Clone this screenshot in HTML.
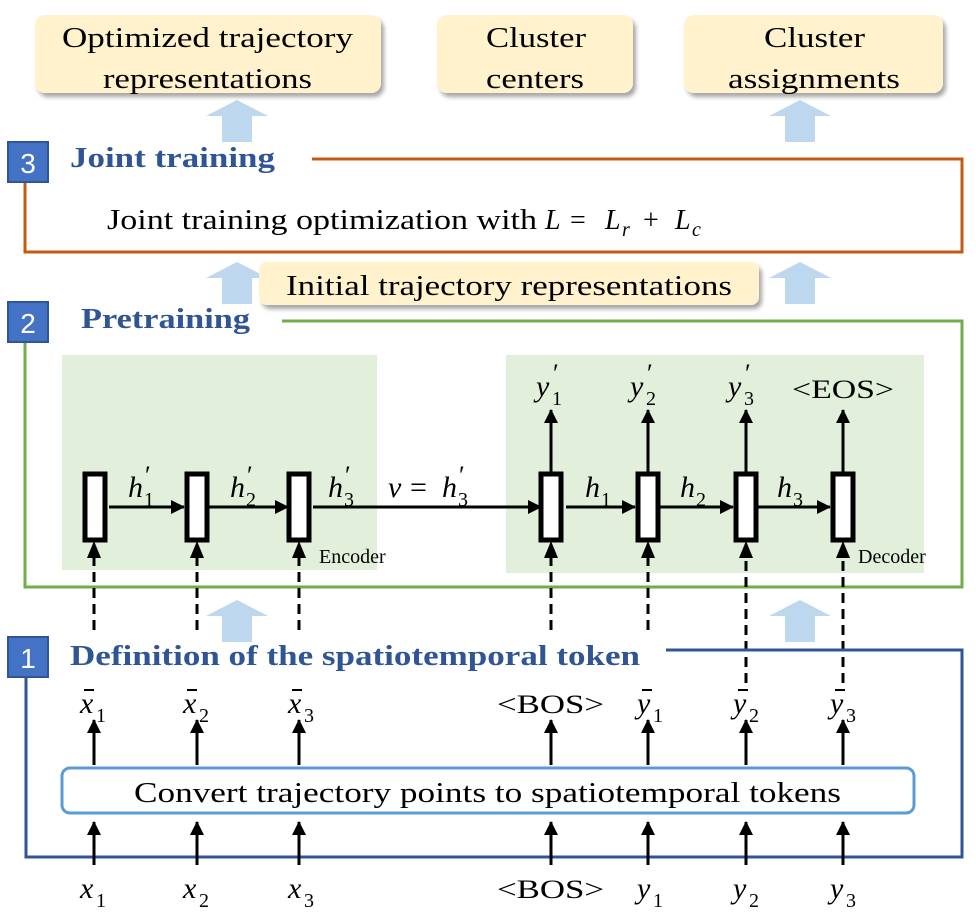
<!DOCTYPE html>
<html><head><meta charset="utf-8"><style>
html,body{margin:0;padding:0;background:#fff;}
svg{display:block;}
text{font-family:"Liberation Serif",serif;fill:#000;}
.h{font-weight:bold;fill:#2F5597;}
.m{font-style:italic;}
.n{font-style:normal;}
</style></head><body>
<svg width="976" height="918" viewBox="0 0 976 918" xmlns="http://www.w3.org/2000/svg">
<defs>
<marker id="ah" markerWidth="14" markerHeight="14" refX="13" refY="7" orient="auto" markerUnits="userSpaceOnUse">
<path d="M0,0 L14,7 L0,14 Z" fill="#000"/></marker>
<filter id="sh" x="-10%" y="-10%" width="130%" height="140%"><feDropShadow dx="3" dy="4" stdDeviation="2" flood-color="#000" flood-opacity="0.35"/></filter>
<g id="barrow"><path d="M-15,42 L-15,16 L-31,16 L0,-0 L31,16 L15,16 L15,42 Z" fill="#BDD7EE"/></g>
</defs>

<!-- top boxes -->
<rect x="35" y="15" width="346" height="78" rx="10" fill="#FFF2CC" filter="url(#sh)"/>
<rect x="437" y="15" width="196" height="78" rx="10" fill="#FFF2CC" filter="url(#sh)"/>
<rect x="684" y="15" width="259" height="78" rx="10" fill="#FFF2CC" filter="url(#sh)"/>
<text x="62" y="47" font-size="28" textLength="291" lengthAdjust="spacingAndGlyphs">Optimized trajectory</text>
<text x="103" y="88" font-size="28" textLength="209" lengthAdjust="spacingAndGlyphs">representations</text>
<text x="486" y="47" font-size="28" textLength="100" lengthAdjust="spacingAndGlyphs">Cluster</text>
<text x="486" y="88" font-size="28" textLength="98" lengthAdjust="spacingAndGlyphs">centers</text>
<text x="764" y="47" font-size="28" textLength="101" lengthAdjust="spacingAndGlyphs">Cluster</text>
<text x="728" y="88" font-size="28" textLength="172" lengthAdjust="spacingAndGlyphs">assignments</text>

<use href="#barrow" x="237" y="100"/>
<use href="#barrow" x="800" y="100"/>

<!-- section 3 -->
<path d="M312,159 H962 V252 H25 V170" fill="none" stroke="#C55A11" stroke-width="3"/>
<rect x="8" y="142" width="40" height="40" fill="#4472C4" stroke="#2F5597" stroke-width="2"/>
<text x="28" y="173" font-size="28" text-anchor="middle" style="fill:#fff;font-family:'Liberation Sans',sans-serif">3</text>
<text class="h" x="70" y="167" font-size="28" textLength="205" lengthAdjust="spacingAndGlyphs">Joint training</text>
<text x="107" y="229" font-size="28" textLength="430" lengthAdjust="spacingAndGlyphs">Joint training optimization with</text>
<text x="545" y="229" font-size="28" class="m">L</text>
<text x="570" y="229" font-size="28">=</text>
<text x="605" y="229" font-size="28" class="m">L</text><text x="622" y="236" font-size="20" class="m">r</text>
<text x="643" y="229" font-size="28">+</text>
<text x="675" y="229" font-size="28" class="m">L</text><text x="692" y="236" font-size="20" class="m">c</text>

<use href="#barrow" x="237" y="262"/>
<use href="#barrow" x="800" y="262"/>
<rect x="259" y="262" width="500" height="43" rx="8" fill="#FFF2CC" filter="url(#sh)"/>
<text x="286" y="295" font-size="28" textLength="446" lengthAdjust="spacingAndGlyphs">Initial trajectory representations</text>

<!-- section 2 -->
<path d="M282,321 H962 V587 H25 V338" fill="none" stroke="#70AD47" stroke-width="3"/>
<rect x="8" y="302" width="40" height="40" fill="#4472C4" stroke="#2F5597" stroke-width="2"/>
<text x="28" y="333" font-size="28" text-anchor="middle" style="fill:#fff;font-family:'Liberation Sans',sans-serif">2</text>
<text class="h" x="81" y="328" font-size="28" textLength="169" lengthAdjust="spacingAndGlyphs">Pretraining</text>

<rect x="62" y="355" width="315" height="215" fill="#E2EFDA"/>
<rect x="506" y="355" width="418" height="218" fill="#E2EFDA"/>

<g stroke="#000" stroke-width="3" fill="none">
<line x1="109" y1="507" x2="184" y2="507" marker-end="url(#ah)"/>
<line x1="209" y1="507" x2="288" y2="507" marker-end="url(#ah)"/>
<line x1="313" y1="507" x2="541" y2="507" marker-end="url(#ah)"/>
<line x1="566" y1="507" x2="635" y2="507" marker-end="url(#ah)"/>
<line x1="660" y1="507" x2="733" y2="507" marker-end="url(#ah)"/>
<line x1="758" y1="507" x2="830" y2="507" marker-end="url(#ah)"/>
<line x1="551" y1="472" x2="551" y2="410" marker-end="url(#ah)"/>
<line x1="648" y1="472" x2="648" y2="410" marker-end="url(#ah)"/>
<line x1="746" y1="472" x2="746" y2="410" marker-end="url(#ah)"/>
<line x1="843" y1="472" x2="843" y2="410" marker-end="url(#ah)"/>
</g>
<g stroke="#000" stroke-width="3" fill="none" stroke-dasharray="10,6">
<line x1="94" y1="630" x2="94" y2="555"/>
<line x1="197" y1="630" x2="197" y2="555"/>
<line x1="299" y1="630" x2="299" y2="555"/>
<line x1="551" y1="630" x2="551" y2="555"/>
<line x1="648" y1="630" x2="648" y2="555"/>
<line x1="746" y1="683" x2="746" y2="555"/>
<line x1="843" y1="683" x2="843" y2="555"/>
</g>
<g fill="#000">
<path d="M87,558 L94,541 L101,558Z"/><path d="M190,558 L197,541 L204,558Z"/><path d="M292,558 L299,541 L306,558Z"/>
<path d="M544,558 L551,541 L558,558Z"/><path d="M641,558 L648,541 L655,558Z"/><path d="M739,558 L746,541 L753,558Z"/><path d="M836,558 L843,541 L850,558Z"/>
</g>
<g fill="#fff" stroke="#000" stroke-width="5">
<rect x="85" y="474" width="20" height="66"/>
<rect x="187" y="474" width="20" height="66"/>
<rect x="289" y="474" width="20" height="66"/>
<rect x="541" y="474" width="20" height="66"/>
<rect x="638" y="474" width="20" height="66"/>
<rect x="736" y="474" width="20" height="66"/>
<rect x="833" y="474" width="20" height="66"/>
</g>
<g font-size="30" class="m">
<text x="128" y="497">h</text><text x="145" y="484" font-size="26" class="n">′</text><text x="144" y="506" font-size="20" class="n">1</text>
<text x="230" y="497">h</text><text x="247" y="484" font-size="26" class="n">′</text><text x="246" y="506" font-size="20" class="n">2</text>
<text x="328" y="497">h</text><text x="345" y="484" font-size="26" class="n">′</text><text x="344" y="506" font-size="20" class="n">3</text>
<text x="388" y="497">v</text><text x="410" y="497" class="n">=</text>
<text x="442" y="497">h</text><text x="459" y="484" font-size="26" class="n">′</text><text x="458" y="506" font-size="20" class="n">3</text>
<text x="585" y="497">h</text><text x="601" y="506" font-size="20" class="n">1</text>
<text x="680" y="497">h</text><text x="696" y="506" font-size="20" class="n">2</text>
<text x="777" y="497">h</text><text x="793" y="506" font-size="20" class="n">3</text>
<text x="536" y="396">y</text><text x="553" y="382" font-size="26" class="n">′</text><text x="552" y="405" font-size="20" class="n">1</text>
<text x="630" y="396">y</text><text x="647" y="382" font-size="26" class="n">′</text><text x="646" y="405" font-size="20" class="n">2</text>
<text x="728" y="396">y</text><text x="745" y="382" font-size="26" class="n">′</text><text x="744" y="405" font-size="20" class="n">3</text>
</g>
<text x="792" y="398" font-size="26" textLength="102" lengthAdjust="spacingAndGlyphs">&lt;EOS&gt;</text>
<text x="319" y="563" font-size="20">Encoder</text>
<text x="858" y="563" font-size="20">Decoder</text>

<use href="#barrow" x="237" y="600"/>
<use href="#barrow" x="800" y="600"/>

<!-- section 1 -->
<path d="M666,650 H962 V857 H26 V677" fill="none" stroke="#2F5597" stroke-width="3"/>
<rect x="8" y="637" width="40" height="40" fill="#4472C4" stroke="#2F5597" stroke-width="2"/>
<text x="28" y="668" font-size="28" text-anchor="middle" style="fill:#fff;font-family:'Liberation Sans',sans-serif">1</text>
<text class="h" x="70" y="665" font-size="28" textLength="570" lengthAdjust="spacingAndGlyphs">Definition of the spatiotemporal token</text>

<g stroke="#000" stroke-width="3">
<line x1="94" y1="765" x2="94" y2="720" marker-end="url(#ah)"/>
<line x1="197" y1="765" x2="197" y2="720" marker-end="url(#ah)"/>
<line x1="299" y1="765" x2="299" y2="720" marker-end="url(#ah)"/>
<line x1="551" y1="765" x2="551" y2="720" marker-end="url(#ah)"/>
<line x1="648" y1="765" x2="648" y2="720" marker-end="url(#ah)"/>
<line x1="746" y1="765" x2="746" y2="720" marker-end="url(#ah)"/>
<line x1="843" y1="765" x2="843" y2="720" marker-end="url(#ah)"/>
<line x1="94" y1="865" x2="94" y2="822" marker-end="url(#ah)"/>
<line x1="197" y1="865" x2="197" y2="822" marker-end="url(#ah)"/>
<line x1="299" y1="865" x2="299" y2="822" marker-end="url(#ah)"/>
<line x1="551" y1="865" x2="551" y2="822" marker-end="url(#ah)"/>
<line x1="648" y1="865" x2="648" y2="822" marker-end="url(#ah)"/>
<line x1="746" y1="865" x2="746" y2="822" marker-end="url(#ah)"/>
<line x1="843" y1="865" x2="843" y2="822" marker-end="url(#ah)"/>
</g>
<rect x="62" y="768" width="852" height="45" rx="8" fill="#fff" stroke="#5B9BD5" stroke-width="3"/>
<text x="134" y="802" font-size="28" textLength="707" lengthAdjust="spacingAndGlyphs">Convert trajectory points to spatiotemporal tokens</text>

<g stroke="#000" stroke-width="2">
<line x1="84" y1="690" x2="94" y2="690"/><line x1="187" y1="690" x2="197" y2="690"/><line x1="292" y1="690" x2="302" y2="690"/>
<line x1="642" y1="690" x2="652" y2="690"/><line x1="738" y1="690" x2="748" y2="690"/><line x1="835" y1="690" x2="845" y2="690"/>
</g>
<g font-size="30">
<text x="80" y="713" class="m">x</text><text x="96" y="722" font-size="20">1</text>
<text x="183" y="713" class="m">x</text><text x="199" y="722" font-size="20">2</text>
<text x="288" y="713" class="m">x</text><text x="304" y="722" font-size="20">3</text>
<text x="497" y="713" font-size="26" textLength="107" lengthAdjust="spacingAndGlyphs">&lt;BOS&gt;</text>
<text x="637" y="713" class="m">y</text><text x="653" y="722" font-size="20">1</text>
<text x="733" y="713" class="m">y</text><text x="749" y="722" font-size="20">2</text>
<text x="830" y="713" class="m">y</text><text x="846" y="722" font-size="20">3</text>

<text x="80" y="898" class="m">x</text><text x="96" y="907" font-size="20">1</text>
<text x="183" y="898" class="m">x</text><text x="199" y="907" font-size="20">2</text>
<text x="288" y="898" class="m">x</text><text x="304" y="907" font-size="20">3</text>
<text x="497" y="898" font-size="26" textLength="107" lengthAdjust="spacingAndGlyphs">&lt;BOS&gt;</text>
<text x="637" y="898" class="m">y</text><text x="653" y="907" font-size="20">1</text>
<text x="733" y="898" class="m">y</text><text x="749" y="907" font-size="20">2</text>
<text x="830" y="898" class="m">y</text><text x="846" y="907" font-size="20">3</text>
</g>
</svg>
</body></html>
